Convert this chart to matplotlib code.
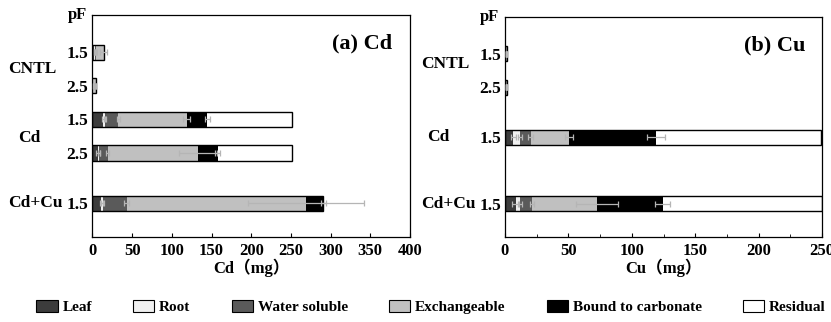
import numpy as np
import matplotlib
matplotlib.use('Agg')
import matplotlib.pyplot as plt
from matplotlib.ticker import MultipleLocator

plt.rcParams['font.family'] = ['Liberation Serif', 'Noto Sans CJK SC']
plt.rcParams['font.weight'] = 'bold'

fractions = ['Leaf', 'Root', 'Water soluble', 'Exchangeable', 'Bound to carbonate', 'Residual']
colors = ['#3c3c3c', '#f0f0f0', '#5a5a5a', '#c0c0c0', '#000000', '#ffffff']

# (a) Cd : rows CNTL 1.5, CNTL 2.5, Cd 1.5, Cd 2.5, Cd+Cu 1.5
cd_pos = [0, 1, 2, 3, 4.5]
cd_ticks = ['1.5', '2.5', '1.5', '2.5', '1.5']
cd_leaf = [2.5, 1.0, 13.5, 7.0, 11.0]
cd_root = [0.5, 0.3, 2.0, 1.5, 2.0]
cd_water = [2.0, 1.2, 17.0, 10.5, 30.0]
cd_exch = [9.0, 2.0, 86.0, 114.0, 226.0]
cd_carb = [0.0, 0.5, 26.0, 25.0, 22.0]
cd_resid = [0.0, 0.0, 107.0, 94.0, 0.0]
cd_leaf_err = [1.0, 0.3, 2.0, 2.0, 2.0]
cd_root_err = [0.5, 0.2, 1.5, 1.5, 2.0]
cd_water_err = [1.0, 0.3, 2.0, 2.0, 3.0]
cd_exch_err = [4.0, 0.5, 4.0, 24.0, 73.0]
cd_carb_err = [0.0, 0.0, 3.0, 3.0, 3.0]
cd_resid_err = [0.0, 0.0, 0.0, 0.0, 0.0]
cd_groups = ['CNTL', 'Cd', 'Cd+Cu']
cd_group_y = [0.5, 2.55, 4.5]

# (b) Cu : rows CNTL 1.5, CNTL 2.5, Cd 1.5, Cd+Cu 1.5
cu_pos = [0, 1, 2.5, 4.5]
cu_ticks = ['1.5', '2.5', '1.5', '1.5']
cu_leaf = [0.5, 0.5, 6.5, 8.4]
cu_root = [0.2, 0.2, 5.3, 3.4]
cu_water = [0.3, 0.3, 8.5, 9.2]
cu_exch = [0.5, 0.5, 30.0, 51.5]
cu_carb = [0.3, 0.3, 69.0, 52.0]
cu_resid = [0.0, 0.0, 130.0, 125.5]
cu_leaf_err = [0.1, 0.1, 2.0, 3.0]
cu_root_err = [0.1, 0.1, 1.5, 1.5]
cu_water_err = [0.1, 0.1, 2.0, 1.5]
cu_exch_err = [0.1, 0.1, 3.0, 16.5]
cu_carb_err = [0.0, 0.0, 7.0, 6.0]
cu_resid_err = [0.0, 0.0, 0.0, 0.0]
cu_groups = ['CNTL', 'Cd', 'Cd+Cu']
cu_group_y = [0.3, 2.5, 4.5]


def plotPanel(ax, pos, segs, errs, ticks, groups, group_y, title, xlabel, xmax, group_x):
    h = 0.45
    left = np.zeros(len(pos))
    handles = []
    for i in range(len(segs)):
        v = np.array(segs[i])
        b = ax.barh(pos, v, height=h, left=left, color=colors[i], edgecolor='none',
                    label=fractions[i], zorder=2)
        handles.append(b)
        left = left + v
    # outline of the whole stacked bar
    ax.barh(pos, left, height=h, fill=False, edgecolor='black', linewidth=1.0, zorder=3)
    # error bars at end of each segment
    left = np.zeros(len(pos))
    for i in range(len(segs)):
        v = np.array(segs[i])
        left = left + v
        e = np.array(errs[i])
        m = e > 0
        if m.any():
            ax.errorbar(left[m], np.array(pos)[m], xerr=e[m], fmt='none',
                        ecolor='#b5b5b5', elinewidth=0.9, capsize=2.2, capthick=0.9, zorder=4)

    ax.set_ylim(5.5, -1.1)
    ax.set_xlim(0, xmax)
    ax.set_yticks(pos)
    ax.set_yticklabels(ticks, fontsize=12.5, fontweight='bold')
    ax.tick_params(axis='y', length=0, pad=3)
    ax.tick_params(axis='x', direction='in', length=3, width=0.8, labelsize=12, pad=4)
    ax.tick_params(axis='x', which='minor', direction='in', length=2, width=0.6)
    for t in ax.get_xticklabels():
        t.set_fontweight('bold')
    for s in ax.spines.values():
        s.set_linewidth(0.9)
    ax.set_xlabel(xlabel, fontsize=12, fontweight='bold', labelpad=0)
    ax.text(0.85, 0.87, title, transform=ax.transAxes, ha='center', va='center',
            fontsize=16, fontweight='bold')
    ax.text(-0.048, 1.0, 'pF', transform=ax.transAxes, ha='center', va='center',
            fontsize=12, fontweight='bold')
    for g, y, x in zip(groups, group_y, group_x):
        ax.text(x, y, g, transform=ax.get_yaxis_transform(), ha='center', va='center',
                fontsize=12.5, fontweight='bold')
    return handles


fig = plt.figure(figsize=(8.31, 3.22), dpi=100)
ax1 = fig.add_axes([0.1113, 0.264, 0.382, 0.689])
ax2 = fig.add_axes([0.6077, 0.264, 0.3815, 0.683])

handles = plotPanel(ax1, cd_pos,
                    [cd_leaf, cd_root, cd_water, cd_exch, cd_carb, cd_resid],
                    [cd_leaf_err, cd_root_err, cd_water_err, cd_exch_err, cd_carb_err, cd_resid_err],
                    cd_ticks, cd_groups, cd_group_y, '(a) Cd', 'Cd（mg）', 400,
                    [-0.19, -0.2, -0.18])
ax1.xaxis.set_major_locator(MultipleLocator(50))

plotPanel(ax2, cu_pos,
          [cu_leaf, cu_root, cu_water, cu_exch, cu_carb, cu_resid],
          [cu_leaf_err, cu_root_err, cu_water_err, cu_exch_err, cu_carb_err, cu_resid_err],
          cu_ticks, cu_groups, cu_group_y, '(b) Cu', 'Cu（mg）', 250,
          [-0.19, -0.21, -0.18])
ax2.xaxis.set_major_locator(MultipleLocator(50))
ax2.xaxis.set_minor_locator(MultipleLocator(25))

leg = fig.legend(handles, fractions, loc='center', bbox_to_anchor=(431 / 831, 15 / 322),
                 ncol=6, frameon=False, fontsize=11, handlelength=1.4, handleheight=0.9,
                 handletextpad=0.3, columnspacing=2.7, borderaxespad=0)
for p in leg.get_patches():
    p.set_edgecolor('black')
    p.set_linewidth(0.8)

plt.savefig('out.png', dpi=100)
